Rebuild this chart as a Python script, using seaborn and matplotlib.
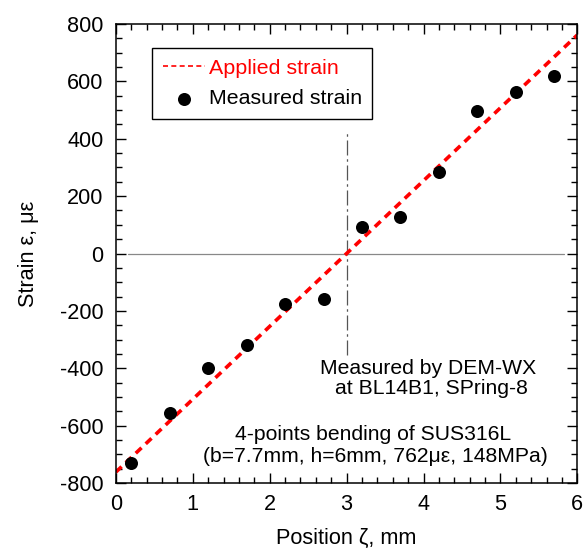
import matplotlib
matplotlib.use("Agg")
import matplotlib.pyplot as plt
import seaborn as sns
import numpy as np
import pandas as pd
from matplotlib.ticker import MultipleLocator

# Data
position = [0.2, 0.7, 1.2, 1.7, 2.2, 2.7, 3.2, 3.7, 4.2, 4.7, 5.2, 5.7]
measured = [-731, -557, -400, -319, -177, -160, 92, 127, 283, 496, 563, 619]
applied_x = [0, 6]
applied_y = [-762, 762]

sns.set_theme(style="white")
plt.rcParams['font.family'] = ['Liberation Sans', 'DejaVu Sans']
plt.rcParams['axes.unicode_minus'] = False
plt.rcParams['text.color'] = 'black'
plt.rcParams['axes.labelcolor'] = 'black'

fig = plt.figure(figsize=(5.85, 5.51), dpi=100)
ax = fig.add_axes([0.198, 0.1234, 0.789, 0.833])

# reference lines
ax.plot([0.16, 5.83], [0, 0], color='#888888', lw=0.9, zorder=1)
ax.plot([3, 3], [-355, 420], color='#555555', lw=0.9, ls=(0, (12, 3, 2, 3)), zorder=1)

df_line = pd.DataFrame({'x': applied_x, 'y': applied_y})
sns.lineplot(data=df_line, x='x', y='y', ax=ax, color='#ff0000', lw=2.6,
             linestyle=(0, (2.2, 1.6)), label='Applied strain', zorder=2)
df_pts = pd.DataFrame({'x': position, 'y': measured})
sns.scatterplot(data=df_pts, x='x', y='y', ax=ax, color='black', s=88,
                edgecolor='black', linewidth=0, label='Measured strain', zorder=3)

ax.set_xlim(0, 6)
ax.set_ylim(-800, 800)
ax.xaxis.set_major_locator(MultipleLocator(1))
ax.xaxis.set_minor_locator(MultipleLocator(0.2))
ax.yaxis.set_major_locator(MultipleLocator(200))
ax.yaxis.set_minor_locator(MultipleLocator(50))
ax.tick_params(which='both', direction='in', top=True, right=True, bottom=True, left=True,
               colors='black', labelcolor='black', labelsize=15.6)
ax.tick_params(which='major', length=7, width=1)
ax.tick_params(which='minor', length=4, width=1)
ax.tick_params(axis='x', pad=8)
ax.tick_params(axis='y', pad=9)
for sp in ax.spines.values():
    sp.set_color('black')
    sp.set_linewidth(1.1)

ax.set_xlabel('Position ζ, mm', fontsize=15.6, labelpad=9, color='black')
ax.set_ylabel('Strain ε, με', fontsize=15.6, labelpad=15, color='black')

leg = ax.legend(loc='upper left', bbox_to_anchor=(0.078, 0.948), fontsize=15.4,
                frameon=True, fancybox=False, edgecolor='black', framealpha=1,
                handlelength=2.0, handletextpad=0.15, borderpad=0.5, labelspacing=0.55,
                borderaxespad=0)
leg.get_frame().set_linewidth(1.0)
leg.get_texts()[0].set_color('#ff0000')
leg.get_texts()[1].set_color('black')
h0 = leg.legend_handles[0]
h0.set_linewidth(1.2)
h0.set_linestyle((0, (3.0, 2.0)))

fs = 15.2
ax.text(4.06, -420, 'Measured by DEM-WX', ha='center', va='baseline', fontsize=fs, color='black')
ax.text(4.10, -490, 'at BL14B1, SPring-8', ha='center', va='baseline', fontsize=fs, color='black')
ax.text(3.35, -650, '4-points bending of SUS316L', ha='center', va='baseline', fontsize=fs, color='black')
ax.text(3.37, -727, '(b=7.7mm, h=6mm, 762με, 148MPa)', ha='center', va='baseline', fontsize=fs, color='black')

fig.savefig('out.png', dpi=100)
